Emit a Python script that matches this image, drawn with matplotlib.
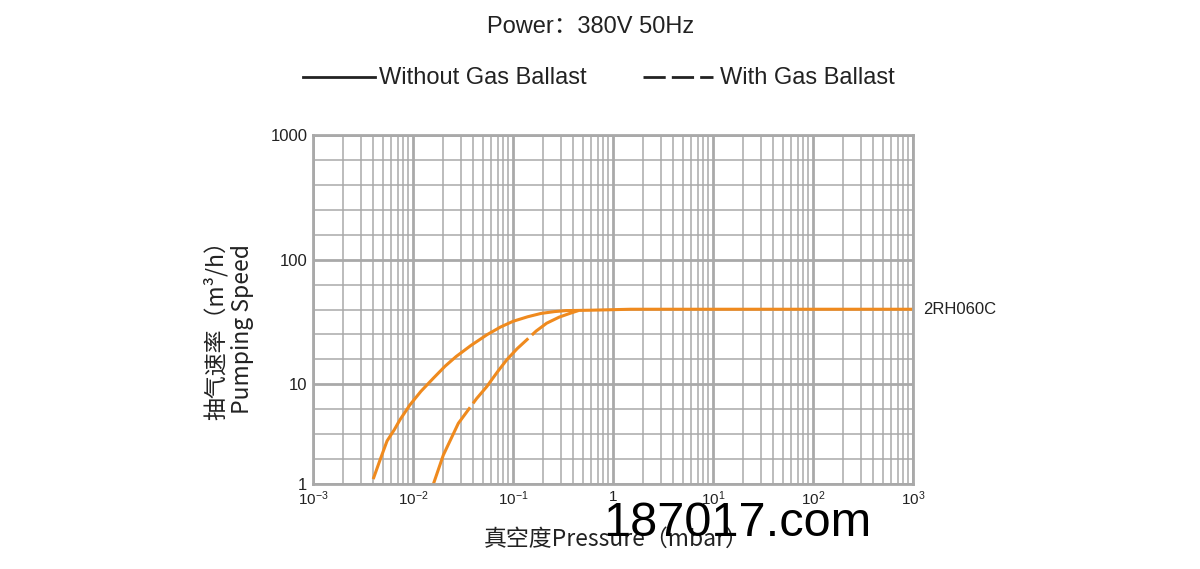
import numpy as np
import matplotlib
matplotlib.use("Agg")
import matplotlib.pyplot as plt
from matplotlib.lines import Line2D
from matplotlib.ticker import FixedLocator, NullFormatter

plt.rcParams['mathtext.fontset'] = 'custom'
plt.rcParams['mathtext.rm'] = 'Liberation Sans'
plt.rcParams['mathtext.it'] = 'Liberation Sans'

# data
x_solid = [0.004, 0.00468, 0.0055, 0.0065, 0.0074, 0.0093, 0.012, 0.016, 0.021, 0.027, 0.038,
           0.055, 0.075, 0.10, 0.14, 0.19, 0.26, 0.34, 0.6, 1.5, 1000]
y_solid = [1.12, 1.74, 2.7, 3.5, 4.4, 6.2, 8.5, 11.2, 14.0, 16.7, 20.5,
           25.0, 28.8, 32.0, 34.8, 37.0, 38.3, 39.0, 39.3, 40.0, 40.0]

x_dash = [0.016, 0.0201, 0.0284, 0.0433, 0.0546, 0.07, 0.0865, 0.11, 0.137, 0.17, 0.217, 0.29, 0.372, 0.45]
y_dash = [1.0, 1.95, 4.06, 7.2, 9.46, 12.6, 15.7, 19.3, 22.7, 26.7, 30.9, 34.6, 37.1, 39.0]

model = "2RH060C"
x_ticks = [1e-3, 1e-2, 1e-1, 1, 1e1, 1e2, 1e3]
x_labels = [r"$\mathregular{10^{-3}}$", r"$\mathregular{10^{-2}}$", r"$\mathregular{10^{-1}}$", "1",
            r"$\mathregular{10^{1}}$", r"$\mathregular{10^{2}}$", r"$\mathregular{10^{3}}$"]
y_ticks = [1, 10, 100, 1000]
y_labels = ["1", "10", "100", "1000"]

ORANGE = '#ef8a1e'
GRID = '#a9a9a9'
CJK = ['Noto Sans CJK SC', 'DejaVu Sans']
LAT = ['Liberation Sans', 'Noto Sans CJK SC']


# the lowest decade of the original grid is squeezed (4 cells instead of 5)
def fwd(y):
    l = np.log10(np.clip(np.asarray(y, dtype=float), 1e-9, None))
    return np.where(l < 1, 4 * l, 4 + 5 * (l - 1))


def inv(p):
    p = np.asarray(p, dtype=float)
    return np.where(p < 4, 10 ** (p / 4), 10 ** (1 + (p - 4) / 5))


fig = plt.figure(figsize=(12, 5.69), dpi=100)
ax = fig.add_axes([313 / 1200, 1 - 484 / 569, 600 / 1200, 349 / 569])

ax.set_xscale('log')
ax.set_yscale('function', functions=(fwd, inv))
ax.set_xlim(1e-3, 1e3)
ax.set_ylim(1, 1000)

# grid
ax.set_xticks(x_ticks)
ax.set_xticklabels(x_labels, fontsize=11, family='Liberation Sans')
minor_x = [m * 10.0 ** e for e in range(-3, 3) for m in range(2, 10)]
ax.xaxis.set_minor_locator(FixedLocator(minor_x))
ax.xaxis.set_minor_formatter(NullFormatter())

ax.set_yticks(y_ticks)
ax.set_yticklabels(y_labels, fontsize=12, family='Liberation Sans')
minor_y = [float(v) for v in inv(np.arange(0, 15)) if not np.isclose(np.log10(v) % 1, 0)]
ax.yaxis.set_minor_locator(FixedLocator(minor_y))
ax.yaxis.set_minor_formatter(NullFormatter())

ax.grid(which='major', color=GRID, lw=2.0)
ax.grid(which='minor', color=GRID, lw=1.1)
ax.tick_params(which='both', length=0, pad=4, colors='#222222')
for s in ax.spines.values():
    s.set_color(GRID)
    s.set_linewidth(2.0)
ax.set_axisbelow(True)

# curves
ax.plot(x_solid, y_solid, color=ORANGE, lw=2.2, solid_capstyle='butt', clip_on=False)
ax.plot(x_dash, y_dash, color=ORANGE, lw=2.2, dashes=(28, 1.6), clip_on=False)
ax.annotate(model, xy=(1000, 40), xytext=(7, 0), textcoords='offset points',
            va='center', ha='left', fontsize=12, family='Liberation Sans', color='#222222')

# axis labels
fig.text(616 / 1200, 1 - 539 / 569, "真空度Pressure（mbar）", family=CJK, fontsize=16.5,
         ha='center', va='center', color='#222222')
fig.text(216 / 1200, 1 - 325 / 569, "抽气速率（m³/h）", family=CJK, fontsize=16.5,
         rotation=90, ha='center', va='center', color='#222222')
fig.text(242 / 1200, 1 - 329 / 569, "Pumping Speed", family=CJK, fontsize=16.5,
         rotation=90, ha='center', va='center', color='#222222')

# title and legend on top
fig.text(591 / 1200, 1 - 27 / 569, "Power：380V 50Hz", family=LAT, fontsize=17,
         ha='center', va='center', color='#222222')
fig.add_artist(Line2D([303 / 1200, 375 / 1200], [1 - 77 / 569] * 2, color='#222222', lw=2))
fig.text(379 / 1200, 1 - 78 / 569, "Without Gas Ballast", family=LAT, fontsize=17,
         ha='left', va='center', color='#222222')
fig.add_artist(Line2D([643 / 1200, 713 / 1200], [1 - 77 / 569] * 2, color='#222222', lw=2,
                      dashes=(8, 2.2)))
fig.text(720 / 1200, 1 - 78 / 569, "With Gas Ballast", family=LAT, fontsize=17,
         ha='left', va='center', color='#222222')

# watermark
fig.text(737 / 1200, 1 - 524 / 569, "187017.com", family='Liberation Sans', fontsize=35,
         ha='center', va='center', color='black')

fig.savefig('out.png', dpi=100, facecolor='white')
